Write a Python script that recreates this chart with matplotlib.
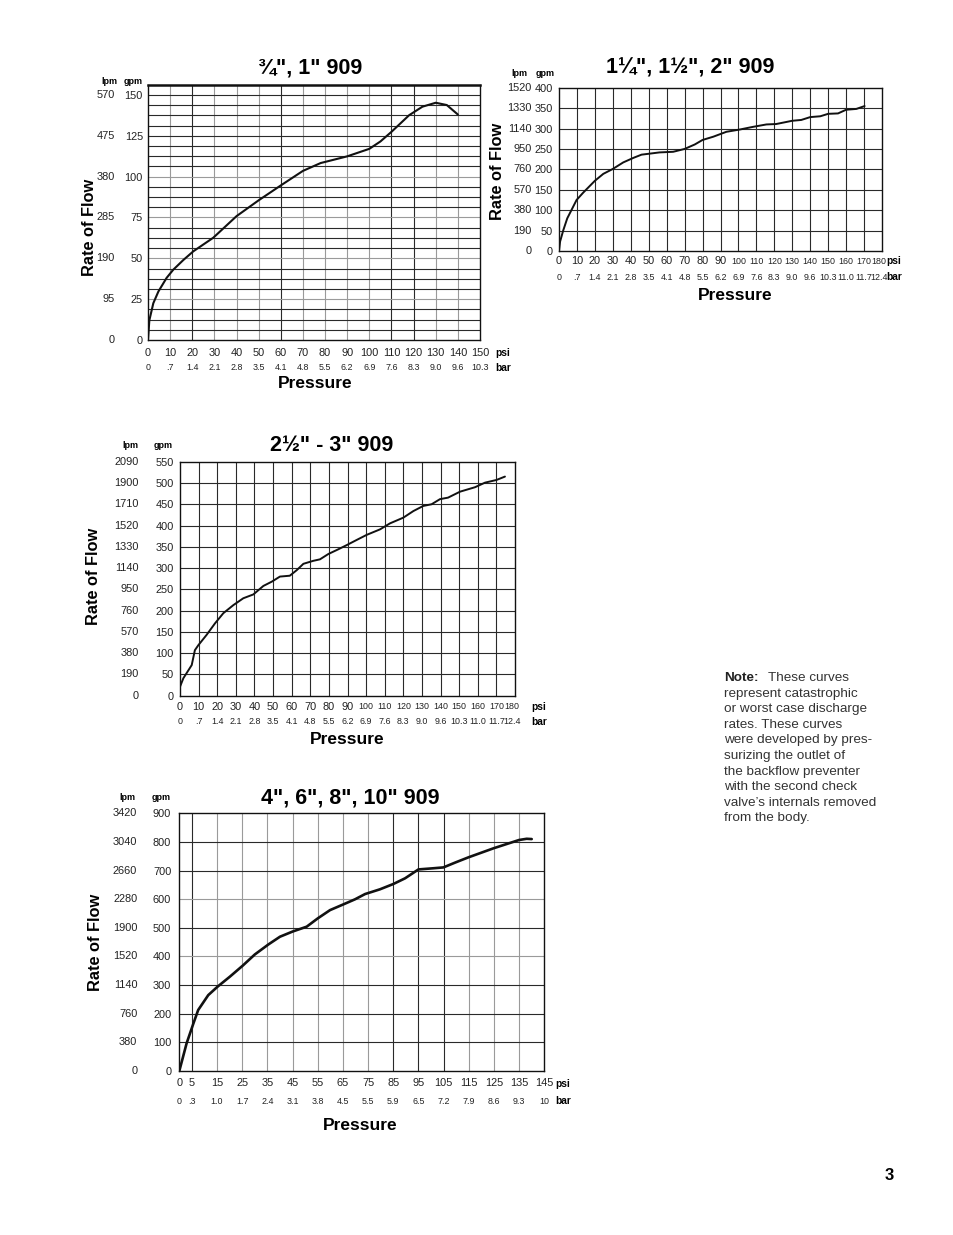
import matplotlib
matplotlib.use("Agg")
import matplotlib.pyplot as plt
from matplotlib import font_manager

W, H = 954, 1235

# ---------------- data ----------------
# Panel 1: 3/4", 1" 909
p1_title = '¾", 1" 909'
p1_psi = [0, 0.6, 2.4, 4.7, 8.4, 11.4, 16, 20.5, 29.5, 40, 50, 60, 70, 78, 90,
          100, 105, 110, 118, 124, 130, 135, 140]
p1_gpm = [0, 12, 22.5, 29.7, 38, 43, 49, 54.3, 62.6, 75.8, 85.5, 94.6, 103.5, 108.3,
          112.4, 117, 121.5, 127.4, 137.6, 142.8, 145.2, 143.8, 138]
p1_psi_ticks = [0, 10, 20, 30, 40, 50, 60, 70, 80, 90, 100, 110, 120, 130, 140, 150]
p1_bar_labels = ['0', '.7', '1.4', '2.1', '2.8', '3.5', '4.1', '4.8', '5.5', '6.2',
                 '6.9', '7.6', '8.3', '9.0', '9.6', '10.3']
p1_gpm_ticks = [0, 25, 50, 75, 100, 125, 150]
p1_lpm_labels = ['0', '95', '190', '285', '380', '475', '570']

# Panel 2: 1 1/4", 1 1/2", 2" 909
p2_title = '1¼", 1½", 2" 909'
p2_psi = [0, 0.6, 2.4, 4.6, 9.8, 13.5, 20, 24.7, 30, 35.8, 41.4, 46, 50.6, 56, 63.6,
          70, 75.7, 80, 86, 93.3, 100.7, 108, 115.6, 121, 130, 135, 140, 145.6, 150,
          155.5, 160, 165.7, 170.3]
p2_gpm = [0, 23, 51, 80, 125, 143, 172, 189, 201, 217, 228, 236, 238.5, 241.5, 243,
          250, 261, 272, 280, 292, 297.5, 304, 310, 311, 319, 321, 328, 330, 336,
          337, 346, 348, 355]
p2_psi_ticks = list(range(0, 181, 10))
p2_bar_labels = ['0', '.7', '1.4', '2.1', '2.8', '3.5', '4.1', '4.8', '5.5', '6.2',
                 '6.9', '7.6', '8.3', '9.0', '9.6', '10.3', '11.0', '11.7', '12.4']
p2_gpm_ticks = [0, 50, 100, 150, 200, 250, 300, 350, 400]
p2_lpm_labels = ['0', '190', '380', '570', '760', '950', '1140', '1330', '1520']

# Panel 3: 2 1/2" - 3" 909
p3_title = '2½" - 3" 909'
p3_psi = [0, 1.8, 6.3, 8, 9.9, 14.3, 18.8, 23.3, 28.7, 34, 39.4, 44.8, 49.3, 53.7,
          59, 62.7, 66.3, 71.6, 75.2, 79.7, 85, 89.6, 94.9, 100.3, 107.5, 112.8, 120,
          125.4, 130.7, 135.2, 139.7, 144, 150.5, 158.5, 163.9, 170, 174.6]
p3_gpm = [21, 41, 72, 107, 119, 143, 170, 194, 213, 229, 238, 258, 268, 280, 282,
          295, 310, 317, 320.5, 333, 344, 354, 366, 378, 391, 405, 418.5, 434, 446,
          450, 462, 465.5, 479.6, 490, 500.8, 507, 515]
p3_psi_ticks = list(range(0, 181, 10))
p3_bar_labels = ['0', '.7', '1.4', '2.1', '2.8', '3.5', '4.1', '4.8', '5.5', '6.2',
                 '6.9', '7.6', '8.3', '9.0', '9.6', '10.3', '11.0', '11.7', '12.4']
p3_gpm_ticks = [0, 50, 100, 150, 200, 250, 300, 350, 400, 450, 500, 550]
p3_lpm_labels = ['0', '190', '380', '570', '760', '950', '1140', '1330', '1520',
                 '1710', '1900', '2090']

# Panel 4: 4", 6", 8", 10" 909
p4_title = '4", 6", 8", 10" 909'
p4_psi = [0, 2.9, 5.6, 7.5, 11.5, 15.2, 20.1, 25.2, 30, 35.4, 40, 45, 50.6, 55, 59.9,
          65.2, 69.8, 73.8, 79.7, 85, 89.7, 95, 100.9, 104.9, 109.5, 114.8, 124.8,
          135, 138, 140]
p4_gpm = [0, 96.6, 166, 213, 265, 294.5, 329.5, 368, 407, 442, 469, 487, 504, 533,
          562, 582, 599.6, 618, 634.5, 653, 673, 704, 708, 711, 727.6, 746, 777.7,
          806.8, 811, 810]
p4_psi_ticks = [0, 5, 15, 25, 35, 45, 55, 65, 75, 85, 95, 105, 115, 125, 135, 145]
p4_bar_labels = ['0', '.3', '1.0', '1.7', '2.4', '3.1', '3.8', '4.5', '5.5', '5.9',
                 '6.5', '7.2', '7.9', '8.6', '9.3', '10']
p4_gpm_ticks = [0, 100, 200, 300, 400, 500, 600, 700, 800, 900]
p4_lpm_labels = ['0', '380', '760', '1140', '1520', '1900', '2280', '2660', '3040',
                 '3420']

note_lines = ["These curves", "represent catastrophic", "or worst case discharge",
              "rates. These curves", "were developed by pres-",
              "surizing the outlet of", "the backflow preventer",
              "with the second check", "valve’s internals removed",
              "from the body."]

# ---------------- style ----------------
names = {f.name for f in font_manager.fontManager.ttflist}
NARROW = ['Liberation Sans Narrow'] if 'Liberation Sans Narrow' in names else []
TICKF = NARROW + ['Liberation Sans', 'DejaVu Sans']
BOLDF = ['Liberation Sans', 'DejaVu Sans']
plt.rcParams['font.family'] = BOLDF

DARK = '#2a2a2a'
LIGHT = '#9a9a9a'
TFS = 7.9

fig = plt.figure(figsize=(W / 100, H / 100), dpi=100)


def ptext(x, y, s, **kw):
    fig.text(x / W, 1 - y / H, s, **kw)


def px2pt(p):
    return p * 72 / 100


def panel(box, xmax, ymax, xgrid, xcols, ygrid, ycols, psi, gpm, xt, bars, yt, lpm,
          lpm_off, gpm_pad, psi_off, bar_off, small100=False, lw=1.5, toplw=1.0):
    x0, y0, x1, y1 = box
    ax = fig.add_axes([x0 / W, 1 - y1 / H, (x1 - x0) / W, (y1 - y0) / H])
    ax.set_xlim(0, xmax)
    ax.set_ylim(0, ymax)
    for v, c in zip(xgrid, xcols):
        ax.axvline(v, color=DARK if c == 'd' else LIGHT, lw=0.8, zorder=1)
    for v, c in zip(ygrid, ycols):
        ax.axhline(v, color=DARK if c == 'd' else LIGHT, lw=0.8, zorder=1)
    for s in ax.spines.values():
        s.set_linewidth(1.0)
        s.set_color('#111')
    ax.spines['top'].set_linewidth(toplw)
    ax.plot(psi, gpm, color='#111', lw=lw, solid_capstyle='round',
            solid_joinstyle='round', zorder=3)
    ax.set_xticks(xt)
    ax.set_xticklabels([])
    ax.set_yticks(yt)
    ax.set_yticklabels([str(v) for v in yt], family=TICKF, fontsize=TFS,
                       color='#222')
    ax.tick_params(axis='both', length=0)
    ax.tick_params(axis='y', pad=px2pt(gpm_pad))
    n = len(xt)
    for i, (v, b) in enumerate(zip(xt, bars)):
        fs = TFS
        if small100 and v >= 100:
            fs = 6.4
        dx = -3 if (small100 and i == n - 1) else 0
        ax.annotate(str(v), xy=(v, 0), xycoords=('data', 'axes fraction'),
                    xytext=(px2pt(dx), -px2pt(psi_off)), textcoords='offset points',
                    ha='center', va='center', fontsize=fs, family=TICKF,
                    color='#222')
        ax.annotate(b, xy=(v, 0), xycoords=('data', 'axes fraction'),
                    xytext=(px2pt(dx), -px2pt(bar_off)), textcoords='offset points',
                    ha='center', va='center', fontsize=6.4, family=TICKF,
                    color='#222')
    for v, l in zip(yt, lpm):
        ax.annotate(l, xy=(0, v), xycoords=('axes fraction', 'data'),
                    xytext=(-px2pt(lpm_off), 0), textcoords='offset points',
                    ha='right', va='center', fontsize=TFS, family=TICKF,
                    color='#222')
    return ax


def unit_labels(x, ypsi, ybar):
    ptext(x, ypsi, 'psi', fontsize=7.3, fontweight='bold', family=TICKF,
          ha='left', va='center')
    ptext(x, ybar, 'bar', fontsize=7.3, fontweight='bold', family=TICKF,
          ha='left', va='center')


def headers(xl, xg, y):
    ptext(xl, y, 'lpm', fontsize=6.5, fontweight='bold', family=TICKF,
          ha='center', va='center')
    ptext(xg, y, 'gpm', fontsize=6.5, fontweight='bold', family=TICKF,
          ha='center', va='center')


# Panel 1
y1_grid = [6.25 * i for i in range(1, 25)]
y1_cols = ['d'] * 24
for i in (3, 15, 7, 11):
    y1_cols[i] = 'l'
panel((148, 84.7, 480, 340), 150, 156.25,
      list(range(10, 150, 10)), list('ldllldllllddll'),
      y1_grid, y1_cols, p1_psi, p1_gpm, p1_psi_ticks, p1_bar_labels,
      p1_gpm_ticks, p1_lpm_labels, lpm_off=33, gpm_pad=5, psi_off=13,
      bar_off=28, toplw=1.8)
ptext(310, 68, p1_title, fontsize=15.5, fontweight='bold', ha='center', va='center')
headers(109, 133, 82)
ptext(90, 227, 'Rate of Flow', fontsize=11.8, fontweight='bold', rotation=90,
      ha='center', va='center')
ptext(315, 383, 'Pressure', fontsize=12.5, fontweight='bold', ha='center', va='center')
unit_labels(495, 353, 368)

# Panel 2
panel((559, 87.7, 882, 251), 180, 400,
      list(range(10, 180, 10)), ['d'] * 17,
      list(range(50, 400, 50)), ['d'] * 7, p2_psi, p2_gpm, p2_psi_ticks,
      p2_bar_labels, p2_gpm_ticks, p2_lpm_labels, lpm_off=27, gpm_pad=6,
      psi_off=10, bar_off=27, small100=True, lw=1.4)
ptext(690, 68, p2_title, fontsize=15.5, fontweight='bold', ha='center', va='center')
headers(519, 545, 74)
ptext(497, 171, 'Rate of Flow', fontsize=11.8, fontweight='bold', rotation=90,
      ha='center', va='center')
ptext(735, 295, 'Pressure', fontsize=12.5, fontweight='bold', ha='center', va='center')
unit_labels(886, 261, 277)

# Panel 3
panel((180, 461.7, 515, 695.7), 180, 550,
      list(range(10, 180, 10)), ['d'] * 17,
      list(range(50, 550, 50)), ['d'] * 10, p3_psi, p3_gpm, p3_psi_ticks,
      p3_bar_labels, p3_gpm_ticks, p3_lpm_labels, lpm_off=41, gpm_pad=6,
      psi_off=11, bar_off=26, small100=True, lw=1.4)
ptext(332, 446, p3_title, fontsize=15.5, fontweight='bold', ha='center', va='center')
headers(130, 163, 445)
ptext(94, 576, 'Rate of Flow', fontsize=11.8, fontweight='bold', rotation=90,
      ha='center', va='center')
ptext(347, 740, 'Pressure', fontsize=12.5, fontweight='bold', ha='center', va='center')
unit_labels(531, 707, 722)

# Panel 4
panel((179.3, 813.3, 544.3, 1071), 145, 900,
      list(range(5, 145, 10)), list('dllllllldddlll'),
      list(range(100, 900, 100)), list('dddldldd'), p4_psi, p4_gpm, p4_psi_ticks,
      p4_bar_labels, p4_gpm_ticks, p4_lpm_labels, lpm_off=42, gpm_pad=8,
      psi_off=12, bar_off=30, lw=1.9)
ptext(350, 798, p4_title, fontsize=15.5, fontweight='bold', ha='center', va='center')
headers(127, 161, 797)
ptext(96, 942, 'Rate of Flow', fontsize=11.8, fontweight='bold', rotation=90,
      ha='center', va='center')
ptext(360, 1125, 'Pressure', fontsize=12.5, fontweight='bold', ha='center', va='center')
unit_labels(555, 1084, 1101)

# Note
note_x, note_y, step = 724, 678, 15.6
ptext(note_x, note_y, 'Note:', fontsize=9.7, fontweight='bold', color='#222',
      ha='left', va='center')
ptext(note_x + 44, note_y, note_lines[0], fontsize=9.7, color='#333',
      ha='left', va='center')
for i, line in enumerate(note_lines[1:], start=1):
    ptext(note_x, note_y + i * step, line, fontsize=9.7, color='#333',
          ha='left', va='center')

ptext(889, 1176, '3', fontsize=12, fontweight='bold', ha='center', va='center')

fig.savefig('out.png', dpi=100, facecolor='white')
